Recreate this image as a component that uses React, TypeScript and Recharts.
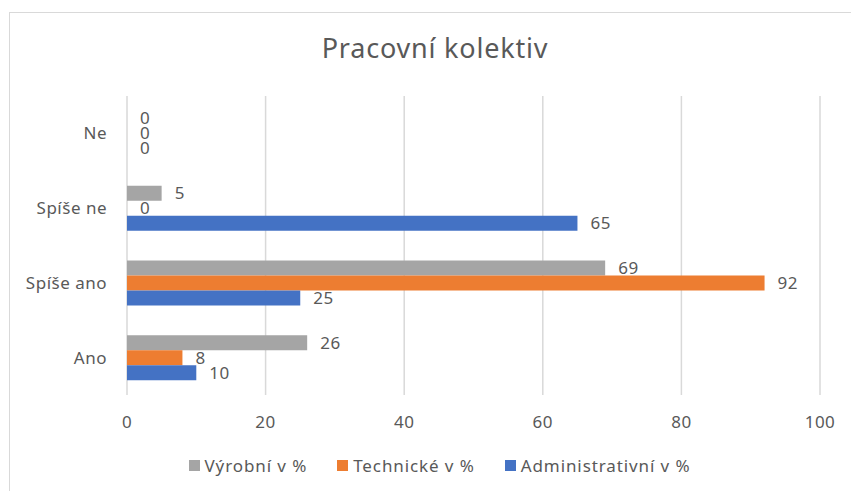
import React from 'react';
import { BarChart, Bar, XAxis, YAxis, CartesianGrid, Legend, LabelList } from 'recharts';

const categories = ['Ne', 'Spíše ne', 'Spíše ano', 'Ano'];
const vyrobni = [0, 5, 69, 26];
const technicke = [0, 0, 92, 8];
const administrativni = [0, 65, 25, 10];
const xTicks = [0, 20, 40, 60, 80, 100];

const seriesKeys = ['v', 't', 'a'];
const seriesNames = ['Výrobní v %', 'Technické v %', 'Administrativní v %'];
const seriesColors = ['#A5A5A5', '#ED7D31', '#4472C4'];

const data = categories.map((c, i) => ({
  cat: c,
  v: vyrobni[i],
  t: technicke[i],
  a: administrativni[i],
}));

const FONT = '"Noto Sans", "Open Sans", sans-serif';
const TEXT = '#595959';

const tickStyle = { fill: TEXT, fontSize: 17, fontFamily: FONT, letterSpacing: 0.5 };

const renderLegend = () => (
  <div style={{ display: 'flex', justifyContent: 'center', alignItems: 'center', fontFamily: FONT, fontSize: 17, letterSpacing: 0.9, color: TEXT, paddingLeft: 28 }}>
    {seriesNames.map((n, i) => (
      <div key={n} style={{ display: 'flex', alignItems: 'center', marginLeft: i === 0 ? 0 : 30 }}>
        <span style={{ display: 'inline-block', width: 11, height: 11, background: seriesColors[i], marginRight: 5 }} />
        <span>{n}</span>
      </div>
    ))}
  </div>
);

const zeroMin = (value: any) => (value === 0 ? 0.01 : 0);

export default function App() {
  return (
    <div style={{ position: 'absolute', left: 0, top: 0, width: 851, height: 491, background: '#fff', overflow: 'hidden' }}>
      <div style={{ position: 'absolute', left: 9, top: 12, width: 842, height: 479, borderTop: '1.5px solid #D9D9D9', borderLeft: '1.5px solid #D9D9D9', boxSizing: 'border-box' }} />
      <div style={{ position: 'absolute', left: 0, width: 870, top: 29, textAlign: 'center', fontFamily: FONT, fontSize: 27, letterSpacing: 0.8, color: TEXT, whiteSpace: 'nowrap' }}>
        Pracovní kolektiv
      </div>
      <div style={{ position: 'absolute', left: 0, top: 0 }}>
        <BarChart
          width={851}
          height={491}
          data={data}
          layout="vertical"
          margin={{ top: 96, right: 31, left: 0, bottom: 56 }}
          barCategoryGap="20%"
          barGap={0}
        >
          <CartesianGrid horizontal={false} stroke="#D9D9D9" strokeWidth={1.5} />
          <XAxis
            type="number"
            domain={[0, 100]}
            ticks={xTicks}
            axisLine={false}
            tickLine={false}
            tickSize={0}
            tickMargin={21}
            height={40}
            tick={tickStyle}
          />
          <YAxis
            type="category"
            dataKey="cat"
            width={127}
            axisLine={false}
            tickLine={false}
            tickSize={0}
            tickMargin={20}
            tick={tickStyle}
          />
          <Legend
            layout="horizontal"
            verticalAlign="middle"
            align="center"
            wrapperStyle={{ top: 454, left: 0, width: 851 }}
            content={renderLegend}
          />
          {seriesKeys.map((k, i) => (
            <Bar key={k} dataKey={k} name={seriesNames[i]} fill={seriesColors[i]} minPointSize={zeroMin} isAnimationActive={false}>
              <LabelList dataKey={k} position="right" offset={13} style={tickStyle} />
            </Bar>
          ))}
        </BarChart>
      </div>
    </div>
  );
}
